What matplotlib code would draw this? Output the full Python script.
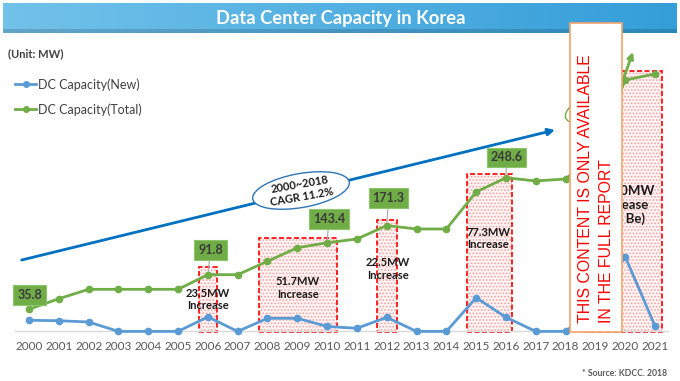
import numpy as np
import matplotlib
matplotlib.use("Agg")
import matplotlib.pyplot as plt
from matplotlib.patches import Rectangle, Ellipse
from matplotlib.lines import Line2D

plt.rcParams['font.family'] = ['Lato', 'DejaVu Sans']
plt.rcParams['hatch.linewidth'] = 0.8

# ---- data (MW) ----
years = list(range(2000, 2022))
dc_new = [18.0, 17.3, 15.2, 0, 0, 0, 23.5, 0, 21.2, 21.2, 8.0, 5.0,
          22.8, 0, 0, 54.5, 22.8, 0, 0, 40.0, 120.9, 8.7]
dc_total = [35.8, 52.9, 68.1, 68.1, 68.1, 68.1, 91.8, 91.8, 113.4, 135.4, 143.4, 149.5,
            171.3, 165.7, 165.7, 225.6, 248.6, 243.4, 246.6, 287.0, 406.8, 416.5]

labelled_years = [2000, 2006, 2010, 2012, 2016]
label_offsets = [(0.02, 23.1), (0.09, 39.9), (0.06, 38.5), (0.06, 44.6), (0.02, 32.8)]

# increase periods: (x start, x end, top MW), text, text position
increase_spans = [(2005.70, 2006.31, 104.7), (2007.71, 2010.32, 151.6),
                  (2011.66, 2012.35, 180.3), (2014.68, 2016.21, 254.2),
                  (2018.58, 2021.22, 421.8)]
increase_texts = ["23.5MW\nIncrease", "51.7MW\nIncrease", "22.5MW\nIncrease",
                  "77.3MW\nIncrease", "167.0MW\nIncrease\n(To Be)"]
increase_text_pos = [(2006.0, 51.6), (2009.02, 70.2), (2012.04, 101.0),
                     (2015.40, 150.3), (2019.96, 204.5)]
increase_text_size = [8, 8, 8, 8, 9.5]

trend_start = (1999.755, 115.5)
trend_end = (2017.645, 325.9)

GREEN = '#70AD47'
BLUE = '#5B9BD5'

fig = plt.figure(figsize=(6.8, 3.81), dpi=100)
fig.patch.set_facecolor('white')

ax = fig.add_axes([0, 49.6 / 381, 1, 331.4 / 381])
ax.set_xlim(1999.027, 2021.838)
ax.set_ylim(0, 536.2)
ax.patch.set_alpha(0)
for s in ['top', 'left', 'right']:
    ax.spines[s].set_visible(False)
ax.spines['bottom'].set_color('#D9D9D9')
ax.spines['bottom'].set_linewidth(1.0)
ax.spines['bottom'].set_bounds(1999.53, 2021.44)
ax.set_yticks([])
ax.set_xticks(years)
ax.tick_params(axis='x', length=0, pad=7, labelsize=8.5, labelcolor='#595959')

# increase boxes
for (x0, x1, top), txt, (tx, ty), fs in zip(increase_spans, increase_texts,
                                            increase_text_pos, increase_text_size):
    ax.add_patch(Rectangle((x0, -1), x1 - x0, top + 1, facecolor='#FFF4F4',
                           edgecolor='#F6A3A3', hatch='.....', lw=0, zorder=1, clip_on=False))
    ax.add_patch(Rectangle((x0, -1), x1 - x0, top + 1, fill=False, edgecolor='#FF0000',
                           lw=1.2, ls=(0, (3, 1.5)), zorder=2, clip_on=False))
    ax.text(tx, ty, txt, ha='center', va='center', fontsize=fs, fontweight='bold',
            color='#1a1a1a', linespacing=1.2, zorder=6)

# trend arrow
ax.annotate('', xy=trend_end, xytext=trend_start,
            arrowprops=dict(arrowstyle='-|>', color='#0070C0', lw=2.0, mutation_scale=10,
                            shrinkA=0, shrinkB=0), zorder=3)

ax.plot(years, dc_new, color=BLUE, lw=2.0, marker='o', ms=4.5, zorder=4, clip_on=False)
ax.plot(years, dc_total, color=GREEN, lw=2.0, marker='o', ms=4.5, zorder=4, clip_on=False)

for yr, (dx, dy) in zip(labelled_years, label_offsets):
    v = dc_total[years.index(yr)]
    ax.annotate(f"{v:.1f}", xy=(yr, v), xytext=(yr + dx, v + dy), ha='center', va='center',
                fontsize=9, fontweight='bold', color='#3a3a3a', zorder=7,
                bbox=dict(boxstyle='square,pad=0.3', fc=GREEN, ec='#8CC56A', lw=0.8),
                arrowprops=dict(arrowstyle='-', color='#A6A6A6', lw=0.8, shrinkA=0, shrinkB=2))

# legend
handles = [Line2D([], [], color=BLUE, lw=2.0, marker='o', ms=4),
           Line2D([], [], color=GREEN, lw=2.0, marker='o', ms=4)]
fig.legend(handles, ['DC Capacity(New)', 'DC Capacity(Total)'], loc='upper left',
           bbox_to_anchor=(15 / 680, 1 - 78 / 381), frameon=False, fontsize=9,
           labelcolor='#404040', handlelength=1.7, handletextpad=0.15, labelspacing=1.0,
           borderpad=0, borderaxespad=0)

# overlay in pixel coordinates for decorations
ov = fig.add_axes([0, 0, 1, 1], zorder=5)
ov.set_xlim(0, 680)
ov.set_ylim(381, 0)
ov.axis('off')
ov.patch.set_alpha(0)

# title bar gradient
gx = np.linspace(0, 1, 200)
left_c = np.array([0x72, 0xC2, 0xEA]) / 255
right_c = np.array([0x34, 0x9E, 0xD9]) / 255
row = left_c[None, :] * (1 - gx[:, None]) + right_c[None, :] * gx[:, None]
grad = np.repeat(row[None, :, :], 30, axis=0)
grad[-4:] = grad[-4:] * 0.85
ov.imshow(grad, extent=(3, 677, 33, 3), aspect='auto', zorder=1)
ov.text(341, 18.5, 'Data Center Capacity in Korea', ha='center', va='center',
        color='white', fontsize=13.2, fontweight='bold', zorder=2)

ov.text(8, 53.5, '(Unit: MW)', ha='left', va='center', fontsize=8, fontweight='bold',
        color='#404040')

# CAGR ellipse
ov.add_patch(Ellipse((301, 190.5), 98, 34, angle=-10, facecolor='white',
                     edgecolor='#2E75B6', lw=1.0, zorder=2))
ov.text(301, 190.5, '2000~2018\nCAGR 11.2%', ha='center', va='center', rotation=10,
        fontsize=8, fontweight='bold', color='#1a1a1a', linespacing=1.2, zorder=3)

# second (hidden) CAGR marks
ov.add_patch(Ellipse((593, 108), 58, 26, angle=-20, facecolor='white',
                     edgecolor=GREEN, lw=1.0, zorder=2))
ov.annotate('', xy=(633, 52), xytext=(608, 122),
            arrowprops=dict(arrowstyle='-|>', color=GREEN, lw=2.0, mutation_scale=9,
                            shrinkA=0, shrinkB=0), zorder=2)

# watermark
ov.add_patch(Rectangle((570, 22.7), 51.7, 309, facecolor='white', edgecolor='#F4A46A',
                       lw=1.2, zorder=10))
ov.text(585, 323, 'THIS CONTENT IS ONLY AVAILABLE', rotation=90, ha='center', va='bottom',
        fontsize=11.4, color='#FF0000', family='Liberation Sans', zorder=11)
ov.text(606.7, 323, 'IN THE FULL REPORT', rotation=90, ha='center', va='bottom',
        fontsize=11.4, color='#FF0000', family='Liberation Sans', zorder=11)

ov.text(667, 373, '* Source: KDCC. 2018', ha='right', va='center', fontsize=6.2,
        fontweight='bold', color='#595959')

fig.savefig('out.png', dpi=100)
